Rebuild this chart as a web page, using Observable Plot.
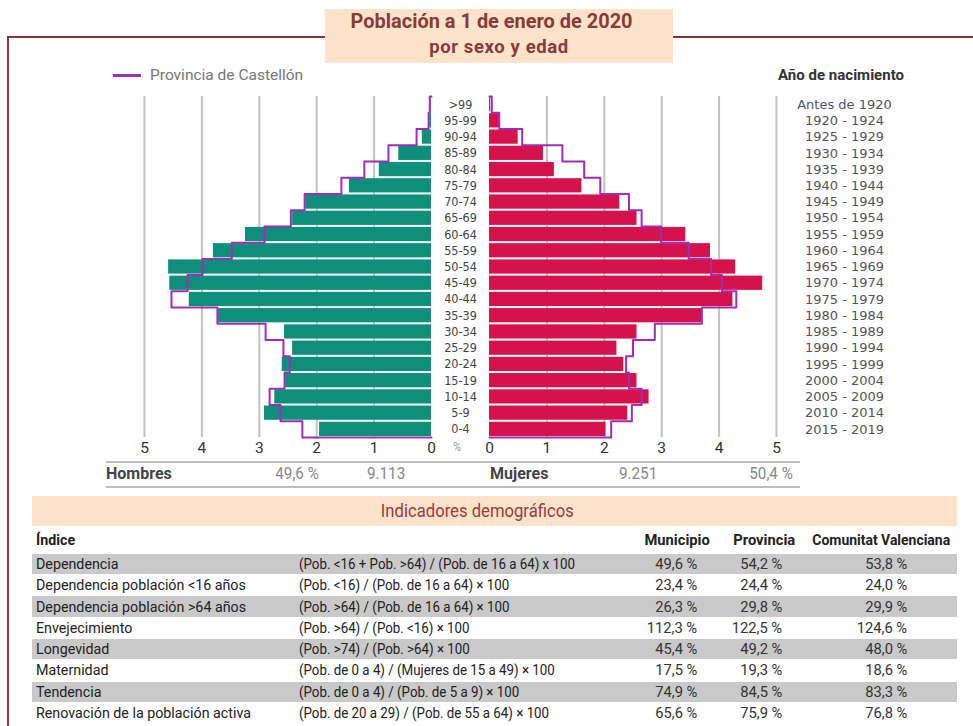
<!DOCTYPE html>
<html><head><meta charset="utf-8">
<script src="https://cdn.jsdelivr.net/npm/d3@7"></script>
<script src="https://cdn.jsdelivr.net/npm/@observablehq/plot@0.6"></script>
<style>
body{margin:0;background:#fff;}
#root{position:relative;width:973px;height:726px;overflow:hidden;font-family:Roboto,"Noto Sans",sans-serif;color:#333;}
.abs{position:absolute;white-space:nowrap;}
#frame{left:7px;top:36px;width:1100px;height:900px;border-top:2.5px solid #8a3338;border-left:2px solid #8a3338;}
#titlebox{left:325px;top:9px;width:348px;height:54px;background:#fde3c9;}
.hline{height:2px;background:#bdbdbd;}
.band{background:#fde3c9;}
.grey{background:#c9c9c9;}
</style></head><body>
<div id="root">
  <div id="frame" class="abs"></div>
  <div id="titlebox" class="abs"></div>
  <div class="abs" style="left:113px;top:74px;width:28px;height:2.5px;background:#9b2fb5;"></div>
  <div class="abs" id="left" style="left:100px;top:90px;"></div>
  <div class="abs" id="right" style="left:420px;top:90px;"></div>
  <div class="abs hline" style="left:106px;top:461px;width:694px;"></div>
  <div class="abs hline" style="left:106px;top:486px;width:694px;"></div>
  <div class="abs band" style="left:32px;top:496px;width:925px;height:30px;"></div>
  <div id="texts"></div>
</div>
<script>
// ---------- data ----------
const ageGroups = [">99","95-99","90-94","85-89","80-84","75-79","70-74","65-69","60-64","55-59","50-54","45-49","40-44","35-39","30-34","25-29","20-24","15-19","10-14","5-9","0-4"];
const birthYears = ["Antes de 1920","1920 - 1924","1925 - 1929","1930 - 1934","1935 - 1939","1940 - 1944","1945 - 1949","1950 - 1954","1955 - 1959","1960 - 1964","1965 - 1969","1970 - 1974","1975 - 1979","1980 - 1984","1985 - 1989","1990 - 1994","1995 - 1999","2000 - 2004","2005 - 2009","2010 - 2014","2015 - 2019"];
const menMunicipio   = [0.01,0.03,0.16,0.57,0.91,1.43,2.19,2.42,3.24,3.80,4.58,4.56,4.22,3.71,2.56,2.42,2.60,2.54,2.73,2.91,1.95];
const menProvincia   = [0.03,0.05,0.26,0.75,1.17,1.57,2.21,2.45,2.91,3.48,3.99,4.25,4.53,3.73,2.89,2.58,2.47,2.56,2.82,2.63,2.25];
const womenMunicipio = [0.02,0.17,0.50,0.94,1.13,1.61,2.27,2.57,3.42,3.85,4.29,4.76,4.24,3.70,2.57,2.22,2.34,2.57,2.78,2.41,2.03];
const womenProvincia = [0.04,0.17,0.57,1.27,1.65,1.93,2.43,2.65,2.99,3.47,3.86,4.05,4.30,3.70,2.88,2.50,2.38,2.43,2.65,2.48,2.12];
const xTicks = [0,1,2,3,4,5];
const titleLines = ["Población a 1 de enero de 2020","por sexo y edad"];
const legendLabel = "Provincia de Castellón";
const birthTitle = "Año de nacimiento";
const summaryMen = {label:"Hombres", pct:"49,6 %", total:"9.113"};
const summaryWomen = {label:"Mujeres", total:"9.251", pct:"50,4 %"};
const tableTitle = "Indicadores demográficos";
const tableHeader = ["Índice","Municipio","Provincia","Comunitat Valenciana"];
const indices = ["Dependencia","Dependencia población <16 años","Dependencia población >64 años","Envejecimiento","Longevidad","Maternidad","Tendencia","Renovación de la población activa"];
const formulas = ["(Pob. <16 + Pob. >64) / (Pob. de 16 a 64) x 100","(Pob. <16) / (Pob. de 16 a 64) × 100","(Pob. >64) / (Pob. de 16 a 64) × 100","(Pob. >64) / (Pob. <16) × 100","(Pob. >74) / (Pob. >64) × 100","(Pob. de 0 a 4) / (Mujeres de 15 a 49) × 100","(Pob. de 0 a 4) / (Pob. de 5 a 9) × 100","(Pob. de 20 a 29) / (Pob. de 55 a 64) × 100"];
const municipio = ["49,6 %","23,4 %","26,3 %","112,3 %","45,4 %","17,5 %","74,9 %","65,6 %"];
const provincia = ["54,2 %","24,4 %","29,8 %","122,5 %","49,2 %","19,3 %","84,5 %","75,9 %"];
const comunitat = ["53,8 %","24,0 %","29,9 %","124,6 %","48,0 %","18,6 %","83,3 %","76,8 %"];

// ---------- chart ----------
const rows = ageGroups.map((age, i) => ({
  age, i, birth: birthYears[i],
  men: menMunicipio[i], menProv: menProvincia[i],
  women: womenMunicipio[i], womenProv: womenProvincia[i]
}));
function outline(key) {
  const pts = [{x: 0, y: 0}];
  rows.forEach(r => pts.push({x: r[key], y: r.i}));
  const last = rows[rows.length - 1];
  pts.push({x: last[key], y: last.i + 1});
  pts.push({x: 0, y: last.i + 1});
  return pts;
}
const teal = "#0f8e7c", crimson = "#d4134d", purple = "#9b2fb5", grid = "#c2c2c2";
const common = {
  height: 372, marginTop: 6, marginBottom: 25,
  style: {background: "transparent", overflow: "visible", fontFamily: "Roboto, sans-serif", fontSize: "15.5px", color: "#333"},
  y: {domain: [0, ageGroups.length], reverse: true, axis: null}
};
const leftPlot = Plot.plot({
  ...common, width: 340, marginLeft: 44, marginRight: 9,
  x: {domain: [0, 5], reverse: true, ticks: xTicks, tickFormat: d3.format("d"), tickSize: 0, tickPadding: 4, label: null},
  marks: [
    Plot.ruleX(xTicks.slice(1), {y1: 0, y2: ageGroups.length, stroke: grid, strokeWidth: 2}),
    Plot.rectX(rows, {x1: 0, x2: "men", y1: "i", y2: d => d.i + 1, fill: teal, insetTop: 1, insetBottom: 1}),
    Plot.line(outline("menProv"), {x: "x", y: "y", curve: "step-before", stroke: purple, strokeWidth: 2})
  ]
});
document.getElementById("left").append(leftPlot);

const rightPlot = Plot.plot({
  ...common, width: 480, marginLeft: 69, marginRight: 124,
  x: {domain: [0, 5], ticks: xTicks, tickFormat: d3.format("d"), tickSize: 0, tickPadding: 4, label: null},
  marks: [
    Plot.ruleX(xTicks.slice(1), {y1: 0, y2: ageGroups.length, stroke: grid, strokeWidth: 2}),
    Plot.rectX(rows, {x1: 0, x2: "women", y1: "i", y2: d => d.i + 1, fill: crimson, insetTop: 1, insetBottom: 1}),
    Plot.line(outline("womenProv"), {x: "x", y: "y", curve: "step-before", stroke: purple, strokeWidth: 2}),
    Plot.text(rows, {x: 0, y: d => d.i + 0.5, text: "age", dx: -29, textAnchor: "middle", fontSize: 12.5, fill: "#444", fontFamily: "'DejaVu Sans Condensed',sans-serif"}),
    Plot.text(rows, {y: d => d.i + 0.5, text: "birth", frameAnchor: "right", dx: 68, textAnchor: "middle", fontSize: 13, fill: "#555", fontFamily: "'DejaVu Sans',sans-serif"})
  ]
});
document.getElementById("right").append(rightPlot);

// ---------- texts ----------
const host = document.getElementById("texts");
function put(txt, x, y, o = {}) {
  const size = o.size || 15, anchor = o.anchor || "start", sx = o.sx || 1;
  const d = document.createElement("div");
  d.className = "abs";
  d.textContent = txt;
  const h = size * 1.3;
  Object.assign(d.style, {
    top: (y - h / 2) + "px", height: h + "px", lineHeight: h + "px",
    fontSize: size + "px", fontWeight: o.bold ? "bold" : "normal", color: o.color || "#222",
    fontFamily: o.font || "Roboto, sans-serif", letterSpacing: (o.ls || 0) + "px"
  });
  if (anchor === "start") { d.style.left = x + "px"; d.style.transformOrigin = "left center"; }
  else if (anchor === "end") { d.style.right = (973 - x) + "px"; d.style.transformOrigin = "right center"; }
  else { d.style.left = x + "px"; d.style.transformOrigin = "left center"; d.style.transform = `translateX(-50%)`; }
  if (sx !== 1) d.style.transform = (anchor === "middle" ? "translateX(-50%) " : "") + `scaleX(${sx})`;
  host.append(d);
  return d;
}
put(titleLines[0], 499, 22, {size: 21, bold: true, color: "#8a3a3a", anchor: "middle", sx: 0.95});
put(titleLines[1], 499, 47, {size: 18.5, bold: true, color: "#8a3a3a", anchor: "middle", ls: 0.6});
put(legendLabel, 150, 75, {size: 15.5, color: "#777"});
put(birthTitle, 778, 75, {size: 15.5, bold: true, color: "#333", sx: 0.97});
put("%", 453, 447, {size: 13, color: "#999", sx: 0.85});
put(summaryMen.label, 106, 474, {size: 16, bold: true, color: "#444"});
put(summaryMen.pct, 319, 474, {size: 16, color: "#888", anchor: "end", sx: 0.95});
put(summaryMen.total, 405, 474, {size: 16, color: "#888", anchor: "end", sx: 0.95});
put(summaryWomen.label, 490, 474, {size: 16, bold: true, color: "#444"});
put(summaryWomen.total, 657, 474, {size: 16, color: "#888", anchor: "end", sx: 0.95});
put(summaryWomen.pct, 793, 474, {size: 16, color: "#888", anchor: "end", sx: 0.95});
put(tableTitle, 488, 511, {size: 18.5, color: "#9a3c3c", anchor: "middle", sx: 0.9});

// ---------- table ----------
const headY = 540, rowY0 = 564, rowH = 21.3;
put(tableHeader[0], 36, headY, {size: 15.5, bold: true, sx: 0.92});
put(tableHeader[1], 710, headY, {size: 15.5, bold: true, anchor: "end", sx: 0.95});
put(tableHeader[2], 795, headY, {size: 15.5, bold: true, anchor: "end", sx: 0.95});
put(tableHeader[3], 950, headY, {size: 15.5, bold: true, anchor: "end", sx: 0.9});
indices.forEach((name, k) => {
  const y = rowY0 + k * rowH;
  if (k % 2 === 0) {
    const g = document.createElement("div");
    g.className = "abs grey";
    Object.assign(g.style, {left: "32px", width: "925px", top: (y - rowH / 2 + 0.5) + "px", height: (rowH - 1) + "px"});
    host.append(g);
  }
  put(name, 36, y, {size: 15.5, sx: 0.92});
  put(formulas[k], 299, y, {size: 14, sx: 0.95});
  put(municipio[k], 697, y, {size: 15.5, anchor: "end", sx: 0.95, color: "#333"});
  put(provincia[k], 782, y, {size: 15.5, anchor: "end", sx: 0.95, color: "#333"});
  put(comunitat[k], 907, y, {size: 15.5, anchor: "end", sx: 0.95, color: "#333"});
});
</script>
</body></html>
